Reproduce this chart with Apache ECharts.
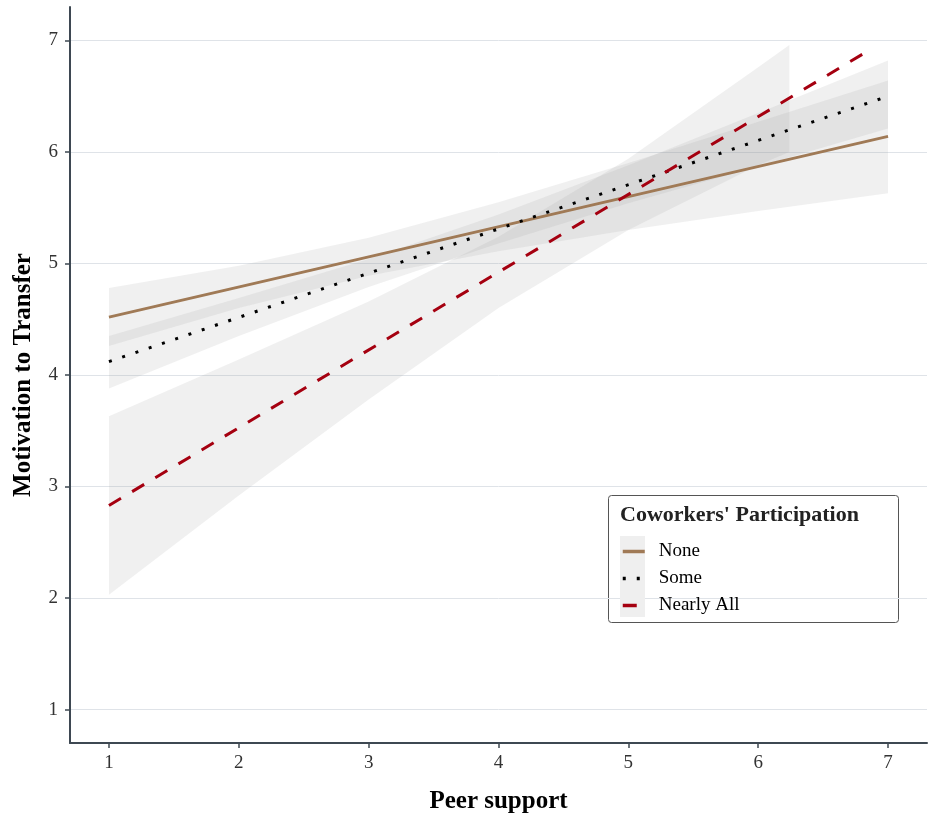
<!DOCTYPE html>
<html>
<head>
<meta charset="utf-8">
<script src="https://cdn.jsdelivr.net/npm/echarts@6/dist/echarts.min.js"></script>
<style>
  html, body { margin: 0; padding: 0; background: #fff; }
  #chart { width: 928px; height: 815px; }
</style>
</head>
<body>
<div id="chart"></div>
<script>
// fitted lines (Peer support -> Motivation to Transfer)
const noneLine = [[1, 4.52], [7, 6.14]];
const someLine = [[1, 4.12], [7, 6.50]];
const allLine  = [[1, 2.83], [6.88, 6.93]];

// confidence bands, read at x = 1..7
const bandX     = [1, 2, 3, 4, 5, 6, 7];
const noneUpper = [4.78, 4.98, 5.23, 5.55, 5.90, 6.27, 6.64];
const noneLower = [4.26, 4.60, 4.89, 5.11, 5.30, 5.47, 5.63];
const someUpper = [4.35, 4.69, 5.04, 5.44, 5.88, 6.35, 6.82];
const someLower = [3.88, 4.35, 4.79, 5.18, 5.54, 5.87, 6.21];
const allX      = [1, 2, 3, 4, 5, 6, 6.24];
const allUpper  = [3.63, 4.14, 4.66, 5.24, 5.94, 6.76, 6.96];
const allLower  = [2.03, 2.92, 3.78, 4.60, 5.30, 5.88, 6.00];

const xTicks = [1, 2, 3, 4, 5, 6, 7];
const yTicks = [1, 2, 3, 4, 5, 6, 7];

const serif = '"Liberation Serif", "Times New Roman", serif';
const axisColor = '#3e4852';

function band(name, xs, upper, lower) {
  return {
    name: name + ' band',
    type: 'custom',
    clip: true,
    silent: true,
    z: 1,
    data: [[xs[0], upper[0]]],
    renderItem: (params, api) => {
      const pts = [];
      xs.forEach((x, i) => pts.push(api.coord([x, upper[i]])));
      for (let i = xs.length - 1; i >= 0; i--) pts.push(api.coord([xs[i], lower[i]]));
      return {
        type: 'polygon',
        shape: { points: pts },
        style: { fill: 'rgba(153,153,153,0.15)' }
      };
    }
  };
}

const chart = echarts.init(document.getElementById('chart'));
chart.setOption({
  animation: false,
  grid: { left: 70, right: 1, top: 7, bottom: 72, outerBoundsMode: 'none', containLabel: false },
  xAxis: {
    type: 'value', min: 0.7, max: 7.3,
    name: 'Peer support', nameLocation: 'middle', nameGap: 46,
    nameTextStyle: { fontFamily: serif, fontSize: 25, fontWeight: 'bold', color: '#000' },
    axisLine: { lineStyle: { color: axisColor, width: 2 } },
    axisTick: { show: true, length: 5, customValues: xTicks, lineStyle: { color: axisColor, width: 1.5 } },
    axisLabel: { customValues: xTicks, fontFamily: serif, fontSize: 19, color: '#333', margin: 11 },
    splitLine: { show: false }
  },
  yAxis: {
    type: 'value', min: 0.7, max: 7.3,
    name: 'Motivation to Transfer', nameLocation: 'middle', nameGap: 34, nameRotate: 90,
    nameTextStyle: { fontFamily: serif, fontSize: 25, fontWeight: 'bold', color: '#000' },
    axisLine: { show: true, lineStyle: { color: axisColor, width: 2 } },
    axisTick: { show: true, length: 5, customValues: yTicks, lineStyle: { color: axisColor, width: 1.5 } },
    axisLabel: { customValues: yTicks, fontFamily: serif, fontSize: 19, color: '#333', margin: 12 },
    splitLine: { show: true, lineStyle: { color: '#dfe3e8', width: 1 } }
  },
  legend: {
    orient: 'vertical', left: 616, top: 537,
    itemWidth: 22, itemHeight: 14, itemGap: 8,
    itemStyle: { opacity: 0 },
    lineStyle: { width: 3.5 },
    data: ['None', 'Some', 'Nearly All'],
    textStyle: { fontFamily: serif, fontSize: 19, color: '#000', padding: [0, 0, 0, 9] }
  },
  graphic: [
    { type: 'rect', left: 608, top: 495, z: 0,
      shape: { width: 290, height: 127, r: 3 },
      style: { fill: '#fff', stroke: '#555', lineWidth: 1 } },
    { type: 'rect', left: 620, top: 536, z: 1,
      shape: { width: 25, height: 81 },
      style: { fill: '#efefef' } },
    { type: 'text', left: 620, top: 504, z: 2,
      style: { text: "Coworkers' Participation", fontFamily: serif, fontSize: 22, fontWeight: 'bold', fill: '#222' } }
  ],
  series: [
    band('None', bandX, noneUpper, noneLower),
    band('Some', bandX, someUpper, someLower),
    band('Nearly All', allX, allUpper, allLower),
    { name: 'None', type: 'line', data: noneLine, showSymbol: false, symbol: 'none', z: 3,
      lineStyle: { color: '#a07a56', width: 2.8 }, itemStyle: { color: '#a07a56' } },
    { name: 'Some', type: 'line', data: someLine, showSymbol: false, symbol: 'none', z: 3,
      lineStyle: { color: '#000', width: 3, type: [3, 11] }, itemStyle: { color: '#000' } },
    { name: 'Nearly All', type: 'line', data: allLine, showSymbol: false, symbol: 'none', z: 3,
      lineStyle: { color: '#a50010', width: 3, type: [14, 13] }, itemStyle: { color: '#a50010' } }
  ]
});
window.addEventListener('resize', () => chart.resize());
</script>
</body>
</html>
